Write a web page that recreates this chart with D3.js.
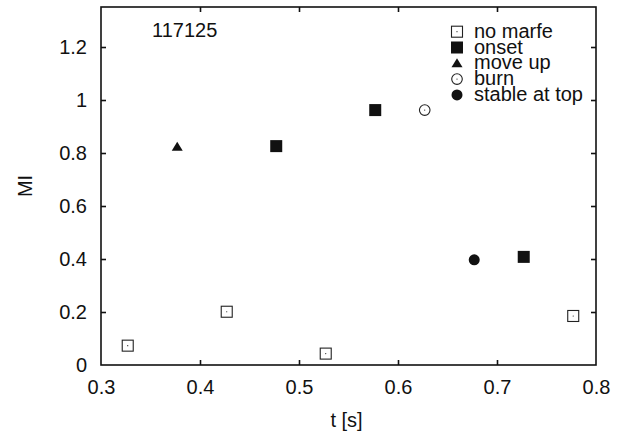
<!DOCTYPE html>
<html><head><meta charset="utf-8">
<script src="https://cdn.jsdelivr.net/npm/d3@7"></script>
<style>body{margin:0;background:#fff}svg{display:block}text{font-family:"Liberation Sans",Arial,sans-serif;fill:#111}</style>
</head><body><svg id="c" width="628" height="432"></svg>
<script>
const xTicks = [0.3, 0.4, 0.5, 0.6, 0.7, 0.8];
const yTicks = [0, 0.2, 0.4, 0.6, 0.8, 1, 1.2];
const seriesNames = ["no marfe", "onset", "move up", "burn", "stable at top"];
const noMarfe = [[0.327, 0.073], [0.427, 0.201], [0.527, 0.043], [0.777, 0.185]];
const onset = [[0.477, 0.826], [0.577, 0.962], [0.727, 0.408]];
const moveUp = [[0.377, 0.824]];
const burn = [[0.627, 0.962]];
const stableTop = [[0.677, 0.397]];
const shotLabel = "117125";

const svg = d3.select("#c");
const L = 101, R = 596, T = 7, B = 365;
const FS = 20;
const x = d3.scaleLinear().domain([0.3, 0.8]).range([L, R]);
const y = d3.scaleLinear().domain([0, 1.351]).range([B, T]);
const fmt = d => String(+d.toFixed(1));
const tickLen = 5;

// frame
svg.append("rect").attr("x", L).attr("y", T).attr("width", R - L).attr("height", B - T)
  .attr("fill", "none").attr("stroke", "#111").attr("stroke-width", 1.6);

// axes (inward ticks)
const ax = svg.append("g").attr("transform", `translate(0,${B})`)
  .call(d3.axisBottom(x).tickValues(xTicks).tickSizeInner(-tickLen).tickSizeOuter(0).tickPadding(14.8).tickFormat(fmt));
const axT = svg.append("g").attr("transform", `translate(0,${T})`)
  .call(d3.axisTop(x).tickValues(xTicks).tickSizeInner(-tickLen).tickSizeOuter(0).tickFormat(""));
const ay = svg.append("g").attr("transform", `translate(${L},0)`)
  .call(d3.axisLeft(y).tickValues(yTicks).tickSizeInner(-tickLen).tickSizeOuter(0).tickPadding(14).tickFormat(fmt));
const ayR = svg.append("g").attr("transform", `translate(${R},0)`)
  .call(d3.axisRight(y).tickValues(yTicks).tickSizeInner(-tickLen).tickSizeOuter(0).tickFormat(""));
[ax, axT, ay, ayR].forEach(g => {
  g.select(".domain").remove();
  g.selectAll("line").attr("stroke", "#111").attr("stroke-width", 1.6);
  g.selectAll("text").attr("font-size", FS).attr("fill", "#111").attr("font-family", '"Liberation Sans",Arial,sans-serif');
});
// hide edge ticks that coincide with the frame
[ax, axT].forEach(g => g.selectAll(".tick line").filter(d => d === 0.3 || d === 0.8).remove());
[ay, ayR].forEach(g => g.selectAll(".tick line").filter(d => d === 0).remove());

// axis titles
svg.append("text").attr("x", 346.5).attr("y", 427).attr("text-anchor", "middle").attr("font-size", FS).text("t [s]");
svg.append("text").attr("transform", `translate(32,186) rotate(-90)`).attr("text-anchor", "middle").attr("font-size", FS).text("MI");

// shot label
svg.append("text").attr("x", 152).attr("y", 37).attr("font-size", FS).text(shotLabel);

// marker drawers
function openSquare(g, cx, cy) {
  g.append("rect").attr("x", cx - 5.5).attr("y", cy - 5.5).attr("width", 11).attr("height", 11)
    .attr("fill", "#fff").attr("stroke", "#222").attr("stroke-width", 1.1);
  g.append("circle").attr("cx", cx).attr("cy", cy).attr("r", 0.6).attr("fill", "#222");
}
function filledSquare(g, cx, cy) {
  g.append("rect").attr("x", cx - 6).attr("y", cy - 6).attr("width", 12).attr("height", 12).attr("fill", "#111");
}
function triangle(g, cx, cy) {
  g.append("path").attr("d", `M${cx},${cy - 5} L${cx + 5.5},${cy + 4} L${cx - 5.5},${cy + 4} Z`).attr("fill", "#111");
}
function openCircle(g, cx, cy) {
  g.append("circle").attr("cx", cx).attr("cy", cy).attr("r", 5.3).attr("fill", "#fff").attr("stroke", "#222").attr("stroke-width", 1.1);
  g.append("circle").attr("cx", cx).attr("cy", cy).attr("r", 0.6).attr("fill", "#222");
}
function filledCircle(g, cx, cy) {
  g.append("circle").attr("cx", cx).attr("cy", cy).attr("r", 5.5).attr("fill", "#111");
}
const drawers = [openSquare, filledSquare, triangle, openCircle, filledCircle];
const series = [noMarfe, onset, moveUp, burn, stableTop];

const pts = svg.append("g");
series.forEach((s, i) => s.forEach(d => drawers[i](pts, x(d[0]), y(d[1]))));

// legend
const leg = svg.append("g");
seriesNames.forEach((n, i) => {
  const cy = 31.7 + i * 15.8;
  drawers[i](leg, 457, cy);
  leg.append("text").attr("x", 474).attr("y", cy + 6).attr("font-size", FS).text(n);
});
</script></body></html>
